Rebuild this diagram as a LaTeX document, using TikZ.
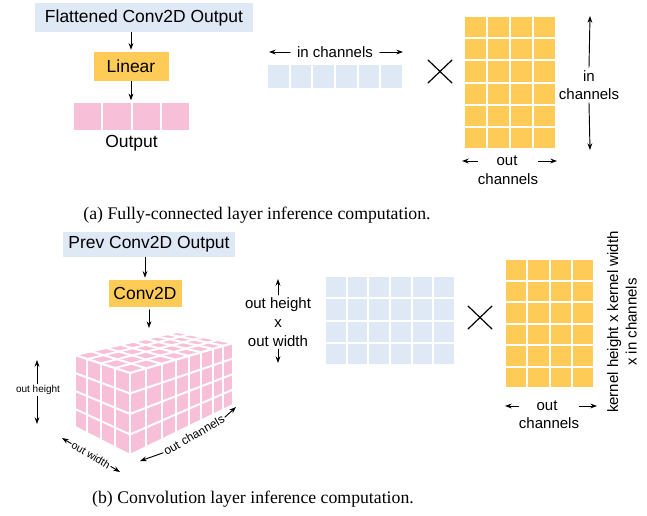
\documentclass[tikz,border=0pt]{standalone}
\usepackage{fontspec}
\setmainfont{Liberation Sans}
\newfontfamily\capfont{Liberation Serif}
\usetikzlibrary{calc,arrows.meta}
\definecolor{inblue}{HTML}{DFE8F5}
\definecolor{wyellow}{HTML}{FFCB57}
\definecolor{outpink}{HTML}{F7C0D8}
\tikzset{
  lbl/.style={font=\fontsize{13.1}{15.7}\selectfont,inner sep=0pt},
  dimlbl/.style={font=\fontsize{11.25}{14}\selectfont,inner sep=0pt,align=center},
  smalllbl/.style={font=\fontsize{7.5}{9}\selectfont,inner sep=1pt},
  captext/.style={font=\capfont\fontsize{13.3}{16}\selectfont,inner sep=0pt},
  arr/.style={line width=0.7pt,-{Stealth[length=5pt,width=3.6pt]}},
  gap/.style={white,line width=1.5pt},
  bluebox/.style={fill=inblue},
  yellowbox/.style={fill=wyellow},
}

\begin{document}
\begin{tikzpicture}[x=0.75pt,y=-0.75pt,line cap=round,line join=round]
  \useasboundingbox (0,0) rectangle (647,515);
  % (a) fully-connected layer
  \node[lbl,bluebox,minimum width=163.5pt,minimum height=21.75pt] (flat) at (144,17.5) {Flattened Conv2D Output};
  \node[lbl,yellowbox,minimum width=56.25pt,minimum height=21.75pt] (linear) at (131,66.5) {Linear};
  \draw[arr,shorten >=1.5pt] (linear.north |- flat.south) -- (linear.north);
  \foreach \i in {0,...,3}
    \fill[outpink] ({73+\i*29.25+1},103) rectangle ({73+(\i+1)*29.25-1},130);
  \coordinate (outrow) at (131,103);
  \draw[arr,shorten >=2pt] (linear.south) -- (outrow);
  \node[lbl] (outlbl) at (131.5,143) {Output};

  \node[dimlbl,inner sep=5pt] (inch) at (335,52) {in channels};
  \coordinate (inchL) at (269,52);
  \coordinate (inchR) at (403,52);
  \draw[arr] (inch.west) -- (inchL);
  \draw[arr] (inch.east) -- (inchR);
  \foreach \i in {0,...,5}
    \fill[inblue] ({267+\i*22.67+1},65) rectangle ({267+(\i+1)*22.67-1},88);
  \draw[line width=0.9pt] (428,60) -- (452,83) (428,83) -- (452,60);
  \foreach \i in {0,...,3}
    \foreach \j in {0,...,5}
      \fill[wyellow] ({464+\i*23+1},{16+\j*22.17+1}) rectangle ({464+(\i+1)*23-1},{16+(\j+1)*22.17-1});
  \node[dimlbl,inner sep=2pt] (inchv) at (589,85) {in\\channels};
  \coordinate (inchvT) at (590,16);
  \coordinate (inchvB) at (590,150);
  \draw[arr] (inchv.north) -- (inchvT);
  \draw[arr] (inchv.south) -- (inchvB);
  \node[dimlbl] (outa) at (507,161) {out};
  \node[dimlbl] (chana) at (508,179) {channels};
  \coordinate (outaL) at (462,161);
  \coordinate (outaR) at (557,161);
  \draw[arr] (chana.west |- outa) -- (outaL);
  \draw[arr] (chana.east |- outa) -- (outaR);
  \node[captext] (capa) at (257,215) {(a) Fully-connected layer inference computation.};

  % (b) convolution layer
  \node[lbl,bluebox,minimum width=129pt,minimum height=18.75pt] (prev) at (149,244.5) {Prev Conv2D Output};
  \node[lbl,yellowbox,minimum width=54.75pt,minimum height=20.25pt] (conv) at (145,293.5) {Conv2D};
  \draw[arr,shorten >=1.5pt] (conv.north |- prev.south) -- (conv.north);
  \coordinate (cubetop) at (149,328);
  \draw[arr,shorten <=2pt] (conv.south -| cubetop) -- (cubetop);

  % output volume, seen in perspective
  \coordinate (cA) at (75,355);
  \coordinate (cF) at (130,373);
  \coordinate (cB) at (233,343);
  \coordinate (cC) at (177,332);
  \coordinate (cAb) at (75,427);
  \coordinate (cFb) at (130,455);
  \coordinate (cBb) at (233,405);
  \fill[outpink] (cA) -- (cF) -- (cFb) -- (cAb) -- cycle;
  \fill[outpink] (cF) -- (cB) -- (cBb) -- (cFb) -- cycle;
  \fill[outpink] (cA) -- (cF) -- (cB) -- (cC) -- cycle;
  \foreach \f in {0,0.226,0.468,0.725,1} {
    \draw[gap] ($(cA)!\f!(cF)$) -- ($(cAb)!\f!(cFb)$);
    \draw[gap] ($(cA)!\f!(cF)$) -- ($(cC)!\f!(cB)$);
  }
  \foreach \f in {0,0.159,0.306,0.443,0.572,0.692,0.805,0.907,1} {
    \draw[gap] ($(cF)!\f!(cB)$) -- ($(cFb)!\f!(cBb)$);
    \draw[gap] ($(cA)!\f!(cC)$) -- ($(cF)!\f!(cB)$);
  }
  \foreach \f in {0,0.25,0.5,0.75,1} {
    \draw[gap] ($(cA)!\f!(cAb)$) -- ($(cF)!\f!(cFb)$);
    \draw[gap] ($(cF)!\f!(cFb)$) -- ($(cB)!\f!(cBb)$);
  }
  \node[smalllbl] (ohs) at (38,390) {out height};
  \coordinate (ohsT) at (37,360);
  \coordinate (ohsB) at (37,424);
  \draw[arr] (ohs.north -| ohsT) -- (ohsT);
  \draw[arr] (ohs.south -| ohsB) -- (ohsB);
  \node[smalllbl,rotate=-30,font=\fontsize{8}{10}\selectfont] (ows) at (91,455) {out width};
  \coordinate (owsL) at (62,438);
  \coordinate (owsR) at (120,472);
  \draw[arr] (ows.west) -- (owsL);
  \draw[arr] (ows.east) -- (owsR);
  \node[smalllbl,rotate=30,font=\fontsize{9}{10}\selectfont] (ocs) at (194,435) {out channels};
  \coordinate (ocsL) at (140,461);
  \coordinate (ocsR) at (236,407);
  \draw[arr] (ocs.west) -- (ocsL);
  \draw[arr] (ocs.east) -- (ocsR);

  % im2col product
  \node[dimlbl,inner sep=2pt] (ohw) at (278,322) {out height\\x\\out width};
  \coordinate (ohwT) at (278,279);
  \coordinate (ohwB) at (278,363);
  \draw[arr] (ohw.north) -- (ohwT);
  \draw[arr] (ohw.south) -- (ohwB);
  \foreach \i in {0,...,5}
    \foreach \j in {0,...,3}
      \fill[inblue] ({325+\i*21.67+1},{276+\j*22.25+1}) rectangle ({325+(\i+1)*21.67-1},{276+(\j+1)*22.25-1});
  \draw[line width=0.9pt] (468,306) -- (492,329) (468,329) -- (492,306);
  \foreach \i in {0,...,3}
    \foreach \j in {0,...,5}
      \fill[wyellow] ({505+\i*22.25+1},{259+\j*21.5+1}) rectangle ({505+(\i+1)*22.25-1},{259+(\j+1)*21.5-1});
  \node[dimlbl] (outb) at (547,406) {out};
  \node[dimlbl] (chanb) at (549,423) {channels};
  \coordinate (outbL) at (505,406);
  \coordinate (outbR) at (597,406);
  \draw[arr] (chanb.west |- outb) -- (outbL);
  \draw[arr] (chanb.east |- outb) -- (outbR);
  \node[dimlbl,rotate=90] (kern) at (622,322) {kernel height x kernel width\\x in channels};
  \node[captext] (capb) at (253,499) {(b) Convolution layer inference computation.};
\end{tikzpicture}
\end{document}
